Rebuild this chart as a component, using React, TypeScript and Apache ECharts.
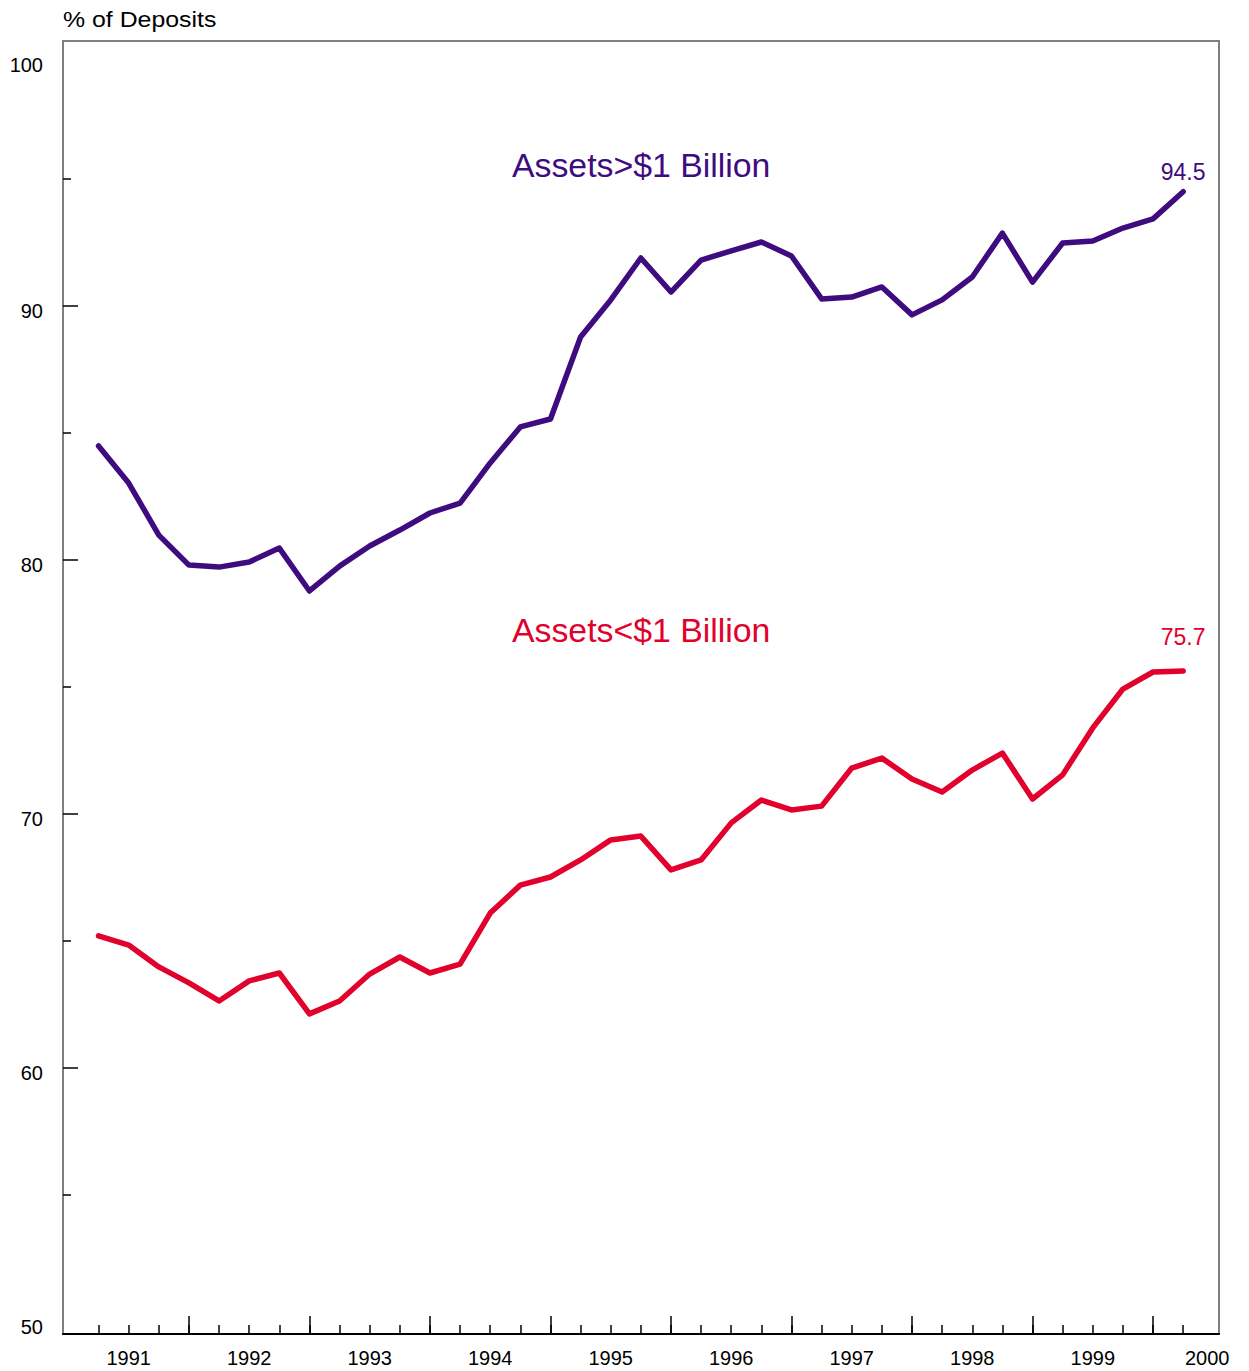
import React, { useEffect, useRef } from "react";
import * as echarts from "echarts";

const quarterIndex: number[] = Array.from({ length: 37 }, (_, i) => i);
const largeBanks: number[] = [
  84.49, 83.03, 80.98, 79.8, 79.72, 79.92, 80.47, 78.78, 79.76, 80.55, 81.18, 81.85, 82.24,
  83.82, 85.24, 85.55, 88.78, 90.24, 91.89, 90.55, 91.81, 92.17, 92.52, 91.97, 90.28, 90.35,
  90.75, 89.65, 90.24, 91.14, 92.87, 90.94, 92.48, 92.56, 93.07, 93.43, 94.5,
];
const smallBanks: number[] = [
  65.2, 64.84, 63.98, 63.35, 62.64, 63.43, 63.74, 62.13, 62.64, 63.7, 64.37, 63.74, 64.09,
  66.1, 67.2, 67.52, 68.19, 68.98, 69.13, 67.8, 68.19, 69.65, 70.55, 70.16, 70.31, 71.81,
  72.2, 71.38, 70.87, 71.73, 72.4, 70.59, 71.54, 73.39, 74.92, 75.59, 75.63,
];
const lastLabels: string[] = ["94.5", "75.7"];
const yearLabels: string[] = ["1991", "1992", "1993", "1994", "1995", "1996", "1997", "1998", "1999", "2000"];
const yearLabelPos: number[] = [1, 5, 9, 13, 17, 21, 25, 29, 33, 36.8];
const majorXTicks: number[] = [3, 7, 11, 15, 19, 23, 27, 31, 35];
const yLabels: number[] = [50, 60, 70, 80, 90, 100];
const yMajorTicks: number[] = [60, 70, 80, 90];
const yMinorTicks: number[] = [55, 65, 75, 85, 95];

const PURPLE = "#3f0c80";
const RED = "#e2002c";
const FONT = "'Liberation Sans', Arial, sans-serif";

export default function App() {
  const ref = useRef<HTMLDivElement>(null);
  useEffect(() => {
    document.body.style.margin = "0";
    if (!ref.current) return;
    const chart = echarts.init(ref.current, undefined, { renderer: "svg" });
    const XMIN = -1.18;
    const XMAX = 37.19;
    const mk = (vals: number[], color: string, dist: number, text: string) =>
      vals.map((v, i) =>
        i === vals.length - 1
          ? {
              value: [quarterIndex[i], v],
              label: {
                show: true,
                position: "top",
                distance: dist,
                formatter: text,
                color,
                fontSize: 23,
                fontFamily: FONT,
              },
            }
          : { value: [quarterIndex[i], v] }
      );
    chart.setOption({
      animation: false,
      textStyle: { fontFamily: FONT },
      grid: { left: 63, right: 30, top: 52, bottom: 49, containLabel: false },
      xAxis: [
        {
          type: "value",
          min: XMIN,
          max: XMAX,
          position: "bottom",
          offset: 12,
          axisLine: { show: true, onZero: false, lineStyle: { color: "#000", width: 2 } },
          axisTick: { show: true, inside: true, length: 9, customValues: quarterIndex, lineStyle: { color: "#000", width: 1.5 } },
          axisLabel: {
            show: true,
            customValues: yearLabelPos,
            formatter: (v: number) => yearLabels[Math.round((v - 1) / 4)],
            color: "#000",
            fontSize: 20,
            fontFamily: FONT,
            margin: 14,
          },
          splitLine: { show: false },
        },
        {
          type: "value",
          min: XMIN,
          max: XMAX,
          position: "bottom",
          offset: 12,
          axisLine: { show: false, onZero: false },
          axisTick: { show: true, inside: true, length: 18, customValues: majorXTicks, lineStyle: { color: "#000", width: 1.5 } },
          axisLabel: { show: false },
          splitLine: { show: false },
        },
      ],
      yAxis: [
        {
          type: "value",
          min: 50,
          max: 100,
          interval: 10,
          position: "left",
          axisLine: { show: true, onZero: false, lineStyle: { color: "#808080", width: 2 } },
          axisTick: { show: true, inside: true, length: 15, customValues: yMajorTicks, lineStyle: { color: "#000", width: 1.5 } },
          axisLabel: {
            show: true,
            customValues: yLabels,
            margin: 20,
            formatter: (v: number) => (v === 100 ? "{b|100}" : "{a|" + v + "}"),
            rich: {
              a: { fontSize: 20, color: "#000", fontFamily: FONT, padding: [10, 0, 0, 0] },
              b: { fontSize: 20, color: "#000", fontFamily: FONT, padding: [26, 0, 0, 0] },
            },
          },
          splitLine: { show: false },
        },
        {
          type: "value",
          min: 50,
          max: 100,
          interval: 10,
          position: "left",
          offset: 0,
          axisLine: { show: false, onZero: false },
          axisTick: { show: true, inside: true, length: 8, customValues: yMinorTicks, lineStyle: { color: "#000", width: 1.5 } },
          axisLabel: { show: false },
          splitLine: { show: false },
        },
      ],
      graphic: [
        {
          type: "rect",
          shape: { x: 63, y: 41, width: 1156, height: 1293 },
          style: { fill: "none", stroke: "#808080", lineWidth: 2 },
          silent: true,
          z: -1,
        },
        {
          type: "text",
          x: 63,
          y: 20,
          scaleX: 1.13,
          style: { text: "% of Deposits", fontSize: 22, fontFamily: FONT, fill: "#000", verticalAlign: "middle" },
        },
        {
          type: "text",
          x: 512,
          y: 165,
          style: { text: "Assets>$1 Billion", fontSize: 33.8, fontFamily: FONT, fill: PURPLE, verticalAlign: "middle" },
        },
        {
          type: "text",
          x: 512,
          y: 630,
          style: { text: "Assets<$1 Billion", fontSize: 33.8, fontFamily: FONT, fill: RED, verticalAlign: "middle" },
        },
      ],
      series: [
        {
          name: "Assets>$1 Billion",
          type: "line",
          xAxisIndex: 0,
          yAxisIndex: 0,
          data: mk(largeBanks, PURPLE, 8, lastLabels[0]),
          symbol: "circle",
          symbolSize: 1,
          showSymbol: true,
          itemStyle: { color: PURPLE },
          lineStyle: { color: PURPLE, width: 5.5, cap: "round", join: "round" },
        },
        {
          name: "Assets<$1 Billion",
          type: "line",
          xAxisIndex: 0,
          yAxisIndex: 0,
          data: mk(smallBanks, RED, 22, lastLabels[1]),
          symbol: "circle",
          symbolSize: 1,
          showSymbol: true,
          itemStyle: { color: RED },
          lineStyle: { color: RED, width: 5.5, cap: "round", join: "round" },
        },
      ],
    });
    return () => chart.dispose();
  }, []);
  return <div ref={ref} style={{ width: 1249, height: 1371, position: "absolute", left: 0, top: 0 }} />;
}
